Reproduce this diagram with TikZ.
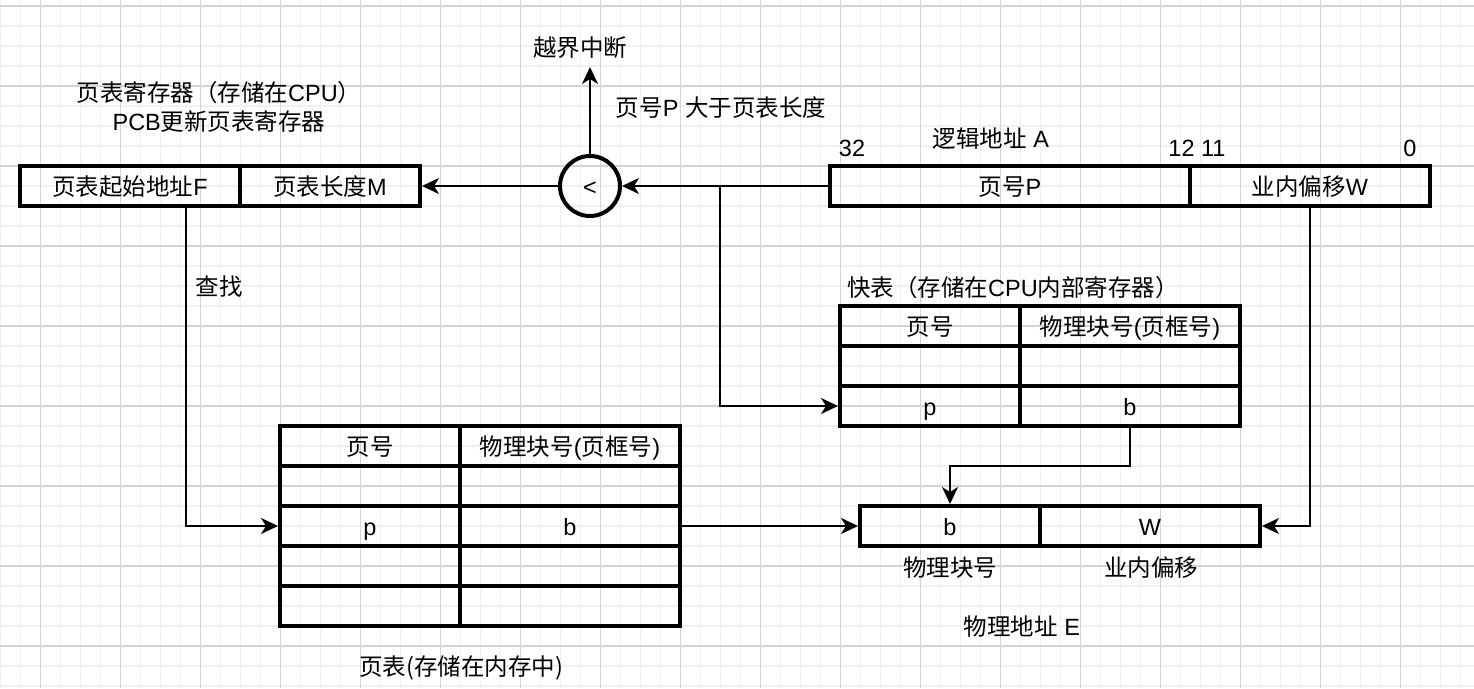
\documentclass[tikz,border=0pt]{standalone}
\usepackage{fontspec}
\setmainfont{Liberation Sans}
\newfontfamily\cjk{Noto Sans CJK SC}
\newcommand{\zh}[1]{{\cjk #1}}
\usetikzlibrary{arrows.meta}
\begin{document}
\begin{tikzpicture}[x=1pt,y=-1pt,
  txt/.style={inner sep=0pt, font=\fontsize{23.5}{29}\selectfont, text=black},
  cell/.style={draw=black, line width=4pt, inner sep=0pt, minimum height=40pt, text height=19pt, text depth=0pt, font=\fontsize{23.5}{29}\selectfont},
  conn/.style={draw=black, line width=2.2pt, -{Stealth[length=17pt,width=16pt,inset=5pt]}},
  gridminor/.style={draw=black!6, line width=1.5pt},
  gridmajor/.style={draw=black!17, line width=1.5pt}]
\useasboundingbox (0,0) rectangle (1474,688);
\fill[white] (0,0) rectangle (1474,688);
% grid
\foreach \i in {0,...,73} { \draw[gridminor] (\i*20+0.7,0) -- (\i*20+0.7,688); }
\foreach \j in {0,...,34} { \draw[gridminor] (0,\j*20+6) -- (1474,\j*20+6); }
\foreach \i in {0,...,18} { \draw[gridmajor] (\i*80+40.7,0) -- (\i*80+40.7,688); }
\foreach \j in {0,...,8} { \draw[gridmajor] (0,\j*80+6) -- (1474,\j*80+6); }

% page table register
\node[txt, align=center] (ptrtitle) at (219,107) {\zh{页表寄存器（存储在}CPU\zh{）}\\PCB\zh{更新页表寄存器}};
\node[cell, minimum width=220pt] (ptrF) at (130,186) {\zh{页表起始地址}F};
\node[cell, minimum width=180pt] (ptrM) at (330,186) {\zh{页表长度}M};

% comparator
\node[draw=black, line width=4pt, circle, minimum size=60pt, inner sep=0pt, text height=19pt, text depth=0pt, font=\fontsize{23.5}{29}\selectfont] (cmp) at (590,186) {<};
\node[txt] (ovf) at (580,48) {\zh{越界中断}};
\coordinate (ovfpt) at (590,67);
\node[txt] (cond) at (721,108) {\zh{页号}P \zh{大于页表长度}};

% logical address
\node[txt] (latitle) at (991,139) {\zh{逻辑地址} A};
\node[txt] (n32) at (852,148) {32};
\node[txt] (n1211) at (1197,148) {12 11};
\node[txt] (n0) at (1410,148) {0};
\node[cell, minimum width=360pt] (laP) at (1010,186) {\zh{页号}P};
\node[cell, minimum width=240pt] (laW) at (1310,186) {\zh{业内偏移}W};
\coordinate (br) at (720,186);

% TLB
\node[txt] (tlbtitle) at (1013,288) {\zh{快表（存储在}CPU\zh{内部寄存器）}};
\node[cell, minimum width=180pt] (t11) at (930,326) {\zh{页号}};
\node[cell, minimum width=220pt] (t12) at (1130,326) {\zh{物理块号}(\zh{页框号})};
\node[cell, minimum width=180pt] (t21) at (930,366) {};
\node[cell, minimum width=220pt] (t22) at (1130,366) {};
\node[cell, minimum width=180pt] (t31) at (930,406) {p};
\node[cell, minimum width=220pt] (t32) at (1130,406) {b};

% page table
\node[txt] (find) at (219,287) {\zh{查找}};
\node[cell, minimum width=180pt] (p11) at (370,446) {\zh{页号}};
\node[cell, minimum width=220pt] (p12) at (570,446) {\zh{物理块号}(\zh{页框号})};
\node[cell, minimum width=180pt] (p21) at (370,486) {};
\node[cell, minimum width=220pt] (p22) at (570,486) {};
\node[cell, minimum width=180pt] (p31) at (370,526) {p};
\node[cell, minimum width=220pt] (p32) at (570,526) {b};
\node[cell, minimum width=180pt] (p41) at (370,566) {};
\node[cell, minimum width=220pt] (p42) at (570,566) {};
\node[cell, minimum width=180pt] (p51) at (370,606) {};
\node[cell, minimum width=220pt] (p52) at (570,606) {};
\node[txt] (pttitle) at (461,668) {\zh{页表(存储在内存中)}};

% physical address
\node[cell, minimum width=180pt] (paB) at (950,526) {b};
\node[cell, minimum width=220pt] (paW) at (1150,526) {W};
\node[txt] (lblB) at (950,568) {\zh{物理块号}};
\node[txt] (lblW) at (1151,568) {\zh{业内偏移}};
\node[txt] (patitle) at (1022,627) {\zh{物理地址} E};
\coordinate (tj) at (950,466);

% connectors
\draw[conn] (laP.west) -- (cmp.east);
\draw[conn] (cmp.west) -- (ptrM.east);
\draw[conn] (cmp.north) -- (ovfpt);
\draw[conn] (br) |- (t31.west);
\draw[conn] (t32.south) |- (tj) -- (paB.north);
\draw[conn] ([xshift=56pt]ptrF.south) |- (p31.west);
\draw[conn] (p32.east) -- (paB.west);
\draw[conn] (laW.south) |- (paW.east);
\end{tikzpicture}
\end{document}
